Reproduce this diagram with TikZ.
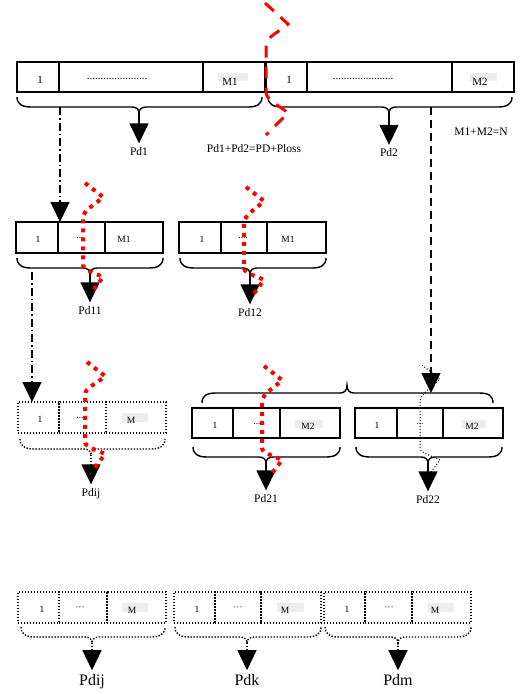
\documentclass[tikz,border=0pt]{standalone}
\usepackage{fontspec}
\setmainfont{Liberation Serif}
\usetikzlibrary{arrows.meta}
\newcommand\bracedn[6]{%
  \draw[#6] (#1,#4) .. controls (#1,#4+7) and (#1+5,#4+10) .. (#1+14,#4+10)
    -- (#3-7,#4+10) .. controls (#3-3,#4+10) and (#3,#4+12) .. (#3,#4+16) coordinate (#5)
    .. controls (#3,#4+12) and (#3+3,#4+10) .. (#3+7,#4+10)
    -- (#2-14,#4+10) .. controls (#2-5,#4+10) and (#2,#4+7) .. (#2,#4);}
\newcommand\wavy[5]{%
  \draw[#1] (#2+2,#3) -- (#2+20,#3+14) .. controls (#2+12,#3+22) and (#2,#4-8) .. (#2,#4)
    -- (#2,#5) .. controls (#2,#5+5) and (#2+12,#5+8) .. (#2+20,#5+12) -- (#2+8,#5+28);}
\begin{document}
\begin{tikzpicture}[x=1pt,y=-1pt,
  cell/.style={draw, line width=1.6pt, inner sep=0pt, outer sep=0pt},
  dcell/.style={draw, line width=1.4pt, dash pattern=on 1.4pt off 1.6pt, inner sep=0pt, outer sep=0pt},
  brc/.style={line width=1.4pt},
  dbrc/.style={line width=1.4pt, dash pattern=on 1.4pt off 1.6pt},
  tri/.style={line width=1.4pt, -{Triangle[length=20pt,width=19pt]}},
  dtri/.style={line width=1.4pt, dash pattern=on 1.4pt off 1.6pt, -{Triangle[length=20pt,width=19pt]}},
  lab/.style={anchor=base, inner sep=3.5pt, font=\fontsize{11.5}{12}\selectfont},
  big/.style={anchor=base, inner sep=3.5pt, font=\fontsize{16}{18}\selectfont},
  tx/.style={anchor=base, inner sep=0pt, font=\fontsize{9.5}{10}\selectfont},
  ttx/.style={anchor=base, inner sep=0pt, font=\fontsize{11}{12}\selectfont},
  gpatch/.style={fill=black!7, draw=none},
  reddot/.style={draw=red, line width=4pt, dash pattern=on 4pt off 5pt},
  blackdot/.style={draw=black, line width=1pt, dash pattern=on 1pt off 2pt},
  reddash/.style={draw=red, line width=3pt, dash pattern=on 12pt off 9pt},
  ddline/.style={line width=1.4pt, dash pattern=on 8pt off 3pt on 1.5pt off 3pt, -{Triangle[length=20pt,width=19pt]}},
  dline/.style={line width=1.4pt, dash pattern=on 8pt off 5pt, -{Triangle[length=20pt,width=19pt]}},
]
\useasboundingbox (0,0) rectangle (528,694);

% ---------- top bar ----------
\node[cell, minimum width=42pt, minimum height=30pt] (ta1) at (38,77) {};
\node[cell, minimum width=144pt, minimum height=30pt] (ta2) at (131,77) {};
\node[cell, minimum width=62pt, minimum height=30pt] (ta3) at (234,77) {};
\node[cell, minimum width=41pt, minimum height=30pt] (tb1) at (286.5,77) {};
\node[cell, minimum width=145pt, minimum height=30pt] (tb2) at (379.5,77) {};
\node[cell, minimum width=62pt, minimum height=30pt] (tb3) at (483,77) {};
\fill[gpatch] (218,73) rectangle (248,81);
\fill[gpatch] (470,73) rectangle (497,81);
\node[ttx] at (40,83) {1};
\node[ttx] at (117,79) {......................};
\node[ttx] at (230,85) {M1};
\node[ttx] at (289,83) {1};
\node[ttx] at (363,79) {......................};
\node[ttx] at (480,85) {M2};

\bracedn{17}{262}{139}{97}{b1}{brc}
\bracedn{268}{512}{389}{97}{b2}{brc}
\node[lab] (Pd1) at (139,155) {Pd1};
\node[lab] (Pd2) at (389,156.5) {Pd2};
\node[lab] (eq) at (254,152) {Pd1+Pd2=PD+Ploss};
\node[lab] (sum) at (481,135) {M1+M2=N};
\draw[tri] (b1) -- (Pd1);
\draw[tri] (b2) -- (Pd2);

% ---------- row 2 ----------
\node[cell, minimum width=42pt, minimum height=31pt] (ra1) at (37,237.5) {};
\node[cell, minimum width=47pt, minimum height=31pt] (ra2) at (81.5,237.5) {};
\node[cell, minimum width=58pt, minimum height=31pt] (ra3) at (134,237.5) {};
\node[cell, minimum width=42pt, minimum height=31pt] (rb1) at (200,237.5) {};
\node[cell, minimum width=46pt, minimum height=31pt] (rb2) at (244,237.5) {};
\node[cell, minimum width=59pt, minimum height=31pt] (rb3) at (296.5,237.5) {};
\node[tx] at (38,242) {1};
\node[tx] at (80,238) {...};
\node[tx] at (124,242) {M1};
\node[tx] at (202,242) {1};
\node[tx] at (243,238) {....};
\node[tx] at (288,242) {M1};

\coordinate (dd1) at (60,107);
\draw[ddline] (dd1) -- (dd1 |- ra2.north);

\bracedn{17}{163}{90}{258}{b11}{brc}
\bracedn{180}{326}{250}{258}{b12}{brc}
\node[lab] (Pd11) at (90,314) {Pd11};
\node[lab] (Pd12) at (250,316) {Pd12};
\draw[tri] (b11) -- (Pd11);
\draw[tri] (b12) -- (Pd12);

% ---------- row 3 left ----------
\node[dcell, minimum width=41pt, minimum height=31pt] (sa1) at (38.5,417.5) {};
\node[dcell, minimum width=47pt, minimum height=31pt] (sa2) at (82.5,417.5) {};
\node[dcell, minimum width=60pt, minimum height=31pt] (sa3) at (136,417.5) {};
\fill[gpatch] (122,413) rectangle (148,422);
\node[tx] at (40,422) {1};
\node[tx] at (80,418) {...};
\node[tx] at (131,423) {M};

\coordinate (dd2) at (32,272);
\draw[ddline] (dd2) -- (dd2 |- sa1.north);

\bracedn{20}{165}{91}{439}{b3}{dbrc}
\node[lab] (Pdij) at (91,496) {Pdij};
\draw[dtri] (b3) -- (Pdij);

% ---------- row 3 right ----------
\node[cell, minimum width=41pt, minimum height=30pt] (ua1) at (212.5,423) {};
\node[cell, minimum width=47pt, minimum height=30pt] (ua2) at (256.5,423) {};
\node[cell, minimum width=60pt, minimum height=30pt] (ua3) at (310,423) {};
\node[cell, minimum width=42pt, minimum height=30pt] (ub1) at (376,423) {};
\node[cell, minimum width=46pt, minimum height=30pt] (ub2) at (420,423) {};
\node[cell, minimum width=60pt, minimum height=30pt] (ub3) at (473,423) {};
\fill[gpatch] (295,420) rectangle (323,428);
\fill[gpatch] (462,420) rectangle (486,428);
\node[tx] at (215,428) {1};
\node[tx] at (257,424) {...};
\node[tx] at (308,429) {M2};
\node[tx] at (377,428) {1};
\node[tx] at (420,424) {...};
\node[tx] at (472,429) {M2};

\draw[brc] (202,403) .. controls (202,396) and (206,393) .. (216,393) -- (340,393)
  .. controls (344,393) and (347,391) .. (347,385) .. controls (347,391) and (350,393) .. (354,393)
  -- (479,393) .. controls (489,393) and (493,396) .. (493,403);
\coordinate (dd3) at (431,107);
\coordinate (ubr) at (431,393);
\draw[dline] (dd3) -- (ubr);

\bracedn{193}{340}{266}{447}{b21}{brc}
\bracedn{356}{502}{428}{447}{b22}{brc}
\node[lab] (Pd21) at (266,502) {Pd21};
\node[lab] (Pd22) at (428,503) {Pd22};
\draw[tri] (b21) -- (Pd21);
\draw[tri] (b22) -- (Pd22);

% ---------- bottom row ----------
\node[dcell, minimum width=41pt, minimum height=31pt] (va1) at (38.5,607.5) {};
\node[dcell, minimum width=48pt, minimum height=31pt] (va2) at (83,607.5) {};
\node[dcell, minimum width=59pt, minimum height=31pt] (va3) at (136.5,607.5) {};
\node[dcell, minimum width=41pt, minimum height=31pt] (vb1) at (194.5,607.5) {};
\node[dcell, minimum width=46pt, minimum height=31pt] (vb2) at (238,607.5) {};
\node[dcell, minimum width=60pt, minimum height=31pt] (vb3) at (291,607.5) {};
\node[dcell, minimum width=41pt, minimum height=31pt] (vc1) at (344.5,607.5) {};
\node[dcell, minimum width=47pt, minimum height=31pt] (vc2) at (388.5,607.5) {};
\node[dcell, minimum width=59pt, minimum height=31pt] (vc3) at (441.5,607.5) {};
\fill[gpatch] (122,603) rectangle (148,612);
\fill[gpatch] (277,603) rectangle (304,612);
\fill[gpatch] (428,603) rectangle (454,612);
\node[tx] at (42,612) {1};
\node[tx] at (80,610) {···};
\node[tx] at (132,613) {M};
\node[tx] at (197,612) {1};
\node[tx] at (238,610) {···};
\node[tx] at (285,613) {M};
\node[tx] at (347,612) {1};
\node[tx] at (389,610) {···};
\node[tx] at (435,613) {M};

\bracedn{21}{165}{92}{627}{b41}{dbrc}
\bracedn{175}{321}{247}{627}{b42}{dbrc}
\bracedn{325}{471}{398}{627}{b43}{dbrc}
\node[big] (Pdij2) at (92,685) {Pdij};
\node[big] (Pdk) at (247,685) {Pdk};
\node[big] (Pdm) at (398,685) {Pdm};
\draw[dtri] (b41) -- (Pdij2);
\draw[dtri] (b42) -- (Pdk);
\draw[dtri] (b43) -- (Pdm);

% ---------- red cut lines ----------
\draw[reddash] (265,3) -- (288,24) .. controls (280,32) and (266,36) .. (266,46) -- (266,92)
  .. controls (266,100) and (280,106) .. (288,113) -- (266,135);
\wavy{reddot}{83}{183}{218}{265}
\wavy{reddot}{244}{187}{223}{268}
\wavy{reddot}{85}{362}{395}{442}
\wavy{reddot}{262}{366}{402}{448}
\wavy{blackdot}{420}{365}{402}{448}
\end{tikzpicture}
\end{document}
